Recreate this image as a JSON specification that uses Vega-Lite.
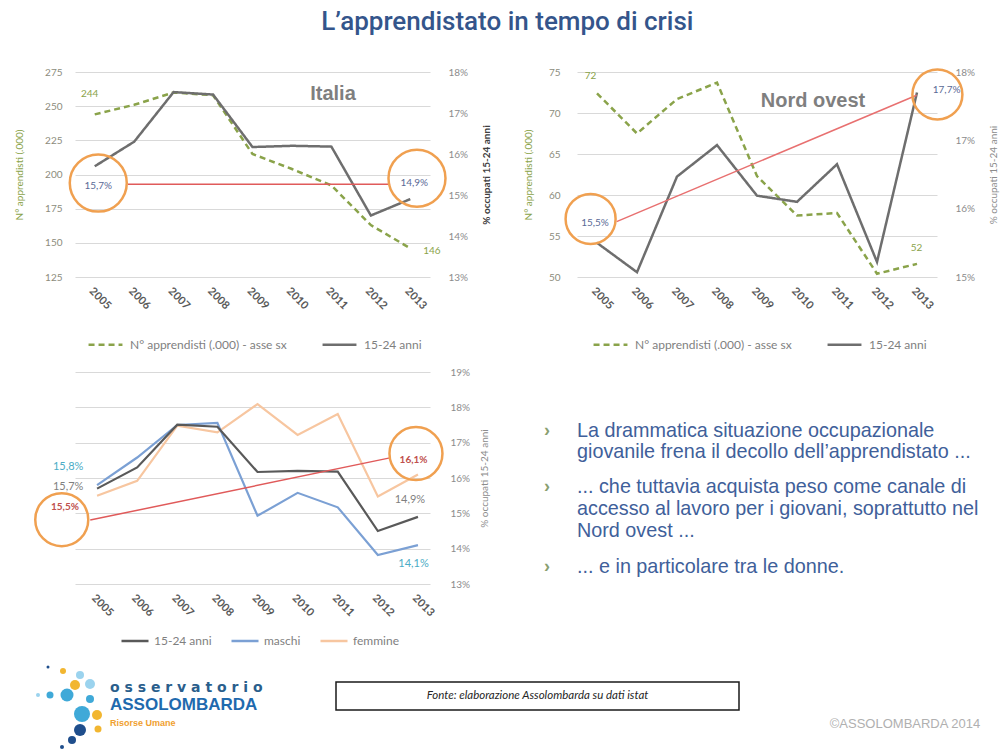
{
  "$schema": "https://vega.github.io/schema/vega-lite/v6.json",
  "background": "#ffffff",
  "padding": {"left": 14, "top": 8, "right": 0, "bottom": 0},
  "title": {
    "text": "L’apprendistato in tempo di crisi",
    "font": "Roboto", "fontSize": 26, "fontWeight": 500, "color": "#34558B",
    "anchor": "middle", "offset": 30
  },
  "config": {
    "view": {"stroke": null},
    "font": "Lato",
    "axis": {"labelFont": "Lato", "titleFont": "Lato", "labelFontSize": 10, "titleFontSize": 10, "labelColor": "#8C8C8C", "domain": false, "ticks": false, "grid": false, "gridColor": "#D9D9D9", "labelOverlap": false},
    "legend": {"labelFont": "Lato", "labelLimit": 400}
  },
  "datasets": {
    "apprendisti": [
      {"area": "Italia", "serie": "N° apprendisti (.000) - asse sx", "anno": 2005, "valore": 244},
      {"area": "Italia", "serie": "N° apprendisti (.000) - asse sx", "anno": 2006, "valore": 251},
      {"area": "Italia", "serie": "N° apprendisti (.000) - asse sx", "anno": 2007, "valore": 260},
      {"area": "Italia", "serie": "N° apprendisti (.000) - asse sx", "anno": 2008, "valore": 258},
      {"area": "Italia", "serie": "N° apprendisti (.000) - asse sx", "anno": 2009, "valore": 215},
      {"area": "Italia", "serie": "N° apprendisti (.000) - asse sx", "anno": 2010, "valore": 204},
      {"area": "Italia", "serie": "N° apprendisti (.000) - asse sx", "anno": 2011, "valore": 192},
      {"area": "Italia", "serie": "N° apprendisti (.000) - asse sx", "anno": 2012, "valore": 163},
      {"area": "Italia", "serie": "N° apprendisti (.000) - asse sx", "anno": 2013, "valore": 146},
      {"area": "Nord ovest", "serie": "N° apprendisti (.000) - asse sx", "anno": 2005, "valore": 72.4},
      {"area": "Nord ovest", "serie": "N° apprendisti (.000) - asse sx", "anno": 2006, "valore": 67.5},
      {"area": "Nord ovest", "serie": "N° apprendisti (.000) - asse sx", "anno": 2007, "valore": 71.7},
      {"area": "Nord ovest", "serie": "N° apprendisti (.000) - asse sx", "anno": 2008, "valore": 73.7},
      {"area": "Nord ovest", "serie": "N° apprendisti (.000) - asse sx", "anno": 2009, "valore": 62.3},
      {"area": "Nord ovest", "serie": "N° apprendisti (.000) - asse sx", "anno": 2010, "valore": 57.5},
      {"area": "Nord ovest", "serie": "N° apprendisti (.000) - asse sx", "anno": 2011, "valore": 57.8},
      {"area": "Nord ovest", "serie": "N° apprendisti (.000) - asse sx", "anno": 2012, "valore": 50.4},
      {"area": "Nord ovest", "serie": "N° apprendisti (.000) - asse sx", "anno": 2013, "valore": 51.6}
    ],
    "occupati": [
      {"area": "Italia", "serie": "femmine", "anno": 2005, "valore": 15.5},
      {"area": "Italia", "serie": "femmine", "anno": 2006, "valore": 15.92},
      {"area": "Italia", "serie": "femmine", "anno": 2007, "valore": 17.48},
      {"area": "Italia", "serie": "femmine", "anno": 2008, "valore": 17.29},
      {"area": "Italia", "serie": "femmine", "anno": 2009, "valore": 18.09},
      {"area": "Italia", "serie": "femmine", "anno": 2010, "valore": 17.22},
      {"area": "Italia", "serie": "femmine", "anno": 2011, "valore": 17.81},
      {"area": "Italia", "serie": "femmine", "anno": 2012, "valore": 15.48},
      {"area": "Italia", "serie": "femmine", "anno": 2013, "valore": 16.1},
      {"area": "Italia", "serie": "maschi", "anno": 2005, "valore": 15.8},
      {"area": "Italia", "serie": "maschi", "anno": 2006, "valore": 16.58},
      {"area": "Italia", "serie": "maschi", "anno": 2007, "valore": 17.5},
      {"area": "Italia", "serie": "maschi", "anno": 2008, "valore": 17.56},
      {"area": "Italia", "serie": "maschi", "anno": 2009, "valore": 14.93},
      {"area": "Italia", "serie": "maschi", "anno": 2010, "valore": 15.58},
      {"area": "Italia", "serie": "maschi", "anno": 2011, "valore": 15.17},
      {"area": "Italia", "serie": "maschi", "anno": 2012, "valore": 13.82},
      {"area": "Italia", "serie": "maschi", "anno": 2013, "valore": 14.1},
      {"area": "Italia", "serie": "15-24 anni", "anno": 2005, "valore": 15.7},
      {"area": "Italia", "serie": "15-24 anni", "anno": 2006, "valore": 16.3},
      {"area": "Italia", "serie": "15-24 anni", "anno": 2007, "valore": 17.51},
      {"area": "Italia", "serie": "15-24 anni", "anno": 2008, "valore": 17.45},
      {"area": "Italia", "serie": "15-24 anni", "anno": 2009, "valore": 16.17},
      {"area": "Italia", "serie": "15-24 anni", "anno": 2010, "valore": 16.2},
      {"area": "Italia", "serie": "15-24 anni", "anno": 2011, "valore": 16.18},
      {"area": "Italia", "serie": "15-24 anni", "anno": 2012, "valore": 14.5},
      {"area": "Italia", "serie": "15-24 anni", "anno": 2013, "valore": 14.9},
      {"area": "Nord ovest", "serie": "15-24 anni", "anno": 2005, "valore": 15.5},
      {"area": "Nord ovest", "serie": "15-24 anni", "anno": 2006, "valore": 15.07},
      {"area": "Nord ovest", "serie": "15-24 anni", "anno": 2007, "valore": 16.47},
      {"area": "Nord ovest", "serie": "15-24 anni", "anno": 2008, "valore": 16.93},
      {"area": "Nord ovest", "serie": "15-24 anni", "anno": 2009, "valore": 16.19},
      {"area": "Nord ovest", "serie": "15-24 anni", "anno": 2010, "valore": 16.1},
      {"area": "Nord ovest", "serie": "15-24 anni", "anno": 2011, "valore": 16.65},
      {"area": "Nord ovest", "serie": "15-24 anni", "anno": 2012, "valore": 15.22},
      {"area": "Nord ovest", "serie": "15-24 anni", "anno": 2013, "valore": 17.7}
    ],
    "tendenze": [
      {"pannello": "Italia", "anno": 2005.84, "valore": 15.26},
      {"pannello": "Italia", "anno": 2012.49, "valore": 15.26},
      {"pannello": "Nord ovest", "anno": 2005.49, "valore": 15.81},
      {"pannello": "Nord ovest", "anno": 2012.99, "valore": 17.66},
      {"pannello": "Genere", "anno": 2004.83, "valore": 14.81},
      {"pannello": "Genere", "anno": 2012.3, "valore": 16.57}
    ],
    "cerchi": [
      {"pannello": "Italia", "anno": 2005.09, "valore": 15.29},
      {"pannello": "Italia", "anno": 2013.17, "valore": 15.41},
      {"pannello": "Nord ovest", "anno": 2004.84, "valore": 15.85},
      {"pannello": "Nord ovest", "anno": 2013.51, "valore": 17.67},
      {"pannello": "Genere", "anno": 2004.12, "valore": 14.82},
      {"pannello": "Genere", "anno": 2012.95, "valore": 16.69}
    ],
    "etichette": [
      {"pannello": "Italia", "asse": "sx", "tipo": "apprendisti", "anno": 2004.87, "valore": 258.9, "testo": "244"},
      {"pannello": "Italia", "asse": "sx", "tipo": "apprendisti", "anno": 2013.55, "valore": 144, "testo": "146"},
      {"pannello": "Italia", "asse": "sx", "tipo": "titolo", "anno": 2011.04, "valore": 258.9, "testo": "Italia"},
      {"pannello": "Italia", "asse": "dx", "tipo": "quota", "anno": 2005.09, "valore": 15.23, "testo": "15,7%"},
      {"pannello": "Italia", "asse": "dx", "tipo": "quota", "anno": 2013.1, "valore": 15.29, "testo": "14,9%"},
      {"pannello": "Nord ovest", "asse": "sx", "tipo": "apprendisti", "anno": 2004.84, "valore": 74.55, "testo": "72"},
      {"pannello": "Nord ovest", "asse": "sx", "tipo": "apprendisti", "anno": 2012.99, "valore": 53.5, "testo": "52"},
      {"pannello": "Nord ovest", "asse": "sx", "tipo": "titolo", "anno": 2010.4, "valore": 71.45, "testo": "Nord ovest"},
      {"pannello": "Nord ovest", "asse": "dx", "tipo": "quota", "anno": 2004.95, "valore": 15.79, "testo": "15,5%"},
      {"pannello": "Nord ovest", "asse": "dx", "tipo": "quota", "anno": 2013.74, "valore": 17.73, "testo": "17,7%"},
      {"pannello": "Genere", "asse": "dx", "tipo": "femmine", "anno": 2004.2, "valore": 15.18, "testo": "15,5%"},
      {"pannello": "Genere", "asse": "dx", "tipo": "femmine", "anno": 2012.89, "valore": 16.5, "testo": "16,1%"},
      {"pannello": "Genere", "asse": "dx", "tipo": "maschi", "anno": 2004.28, "valore": 16.31, "testo": "15,8%"},
      {"pannello": "Genere", "asse": "dx", "tipo": "totale", "anno": 2004.28, "valore": 15.75, "testo": "15,7%"},
      {"pannello": "Genere", "asse": "dx", "tipo": "totale", "anno": 2012.8, "valore": 15.37, "testo": "14,9%"},
      {"pannello": "Genere", "asse": "dx", "tipo": "maschi", "anno": 2012.89, "valore": 13.58, "testo": "14,1%"}
    ],
    "punti": [
      {"riga": 1, "inizio": true, "testo": "La drammatica situazione occupazionale"},
      {"riga": 2, "inizio": false, "testo": "giovanile frena il decollo dell’apprendistato ..."},
      {"riga": 3, "inizio": true, "testo": "... che tuttavia acquista peso come canale di"},
      {"riga": 4, "inizio": false, "testo": "accesso al lavoro per i giovani, soprattutto nel"},
      {"riga": 5, "inizio": false, "testo": "Nord ovest ..."},
      {"riga": 6, "inizio": true, "testo": "... e in particolare tra le donne."}
    ],
    "logo_punti": [
      {"lx": -37, "ly": 13, "r": 2, "tinta": "celeste"},
      {"lx": -25, "ly": 13, "r": 3.5, "tinta": "azzurro"},
      {"lx": -8, "ly": 13, "r": 6.5, "tinta": "azzurro"},
      {"lx": -27, "ly": -15, "r": 1.5, "tinta": "blu"},
      {"lx": -12, "ly": -11, "r": 3, "tinta": "giallo"},
      {"lx": 5, "ly": -7, "r": 4, "tinta": "celeste"},
      {"lx": 0, "ly": 3, "r": 5, "tinta": "giallo"},
      {"lx": 15, "ly": 2, "r": 5, "tinta": "celeste"},
      {"lx": 15, "ly": 17, "r": 4, "tinta": "azzurro"},
      {"lx": 7, "ly": 32, "r": 8, "tinta": "azzurro"},
      {"lx": 22, "ly": 33, "r": 5, "tinta": "giallo"},
      {"lx": 23, "ly": 47, "r": 3.5, "tinta": "giallo"},
      {"lx": 5, "ly": 48, "r": 6, "tinta": "blu"},
      {"lx": -3, "ly": 58, "r": 4, "tinta": "blu"},
      {"lx": -13, "ly": 65, "r": 2, "tinta": "blu"}
    ],
    "logo_testi": [
      {"stile": "a", "lx": 35, "ly": 6, "testo": "o s s e r v a t o r i o"},
      {"stile": "b", "lx": 35, "ly": 23, "testo": "ASSOLOMBARDA"},
      {"stile": "c", "lx": 35, "ly": 41, "testo": "Risorse Umane"}
    ]
  },
  "vconcat": [
    {
      "concat": [
        {
          "width": 355, "height": 205,
          "layer": [
            {
              "layer": [
                {
                  "data": {"name": "apprendisti"},
                  "transform": [{"filter": "datum.area === 'Italia'"}],
                  "mark": {"type": "line", "strokeWidth": 2.5},
                  "encoding": {
                    "x": {"field": "anno", "type": "quantitative", "scale": {"domain": [2004.5, 2013.5], "nice": false, "zero": false}, "axis": {"values": [2005, 2006, 2007, 2008, 2009, 2010, 2011, 2012, 2013], "tickCount": 20, "format": "d", "labelAngle": 45, "title": null, "grid": false, "labelPadding": 8, "labelColor": "#595959", "labelFontWeight": "bold", "labelFontSize": 11}},
                    "y": {"field": "valore", "type": "quantitative", "scale": {"domain": [125, 275], "nice": false, "zero": false}, "axis": {"values": [125, 150, 175, 200, 225, 250, 275], "tickCount": 20, "grid": true, "title": "N° apprendisti (.000)", "titleColor": "#8AA34A", "titleFontWeight": "normal", "labelPadding": 13, "titlePadding": 20, "labelColor": "#8C8C7C"}},
                    "color": {"field": "serie", "type": "nominal", "scale": {"domain": ["N° apprendisti (.000) - asse sx", "15-24 anni"], "range": ["#8AA34A", "#6E6E6E"]}, "legend": {"orient": "none", "legendX": 12, "legendY": 254, "direction": "horizontal", "title": null, "symbolType": "stroke", "symbolSize": 1150, "symbolStrokeWidth": 2.5, "labelFontSize": 12, "labelColor": "#7F7F7F", "columnPadding": 30, "labelOffset": 6}},
                    "strokeDash": {"field": "serie", "type": "nominal", "scale": {"domain": ["N° apprendisti (.000) - asse sx", "15-24 anni"], "range": [[6, 4], [1, 0]]}, "legend": {"orient": "none", "legendX": 12, "legendY": 254, "direction": "horizontal", "title": null, "symbolType": "stroke", "symbolSize": 1150, "symbolStrokeWidth": 2.5, "labelFontSize": 12, "labelColor": "#7F7F7F", "columnPadding": 30, "labelOffset": 6}}
                  }
                },
                {
                  "data": {"name": "etichette"},
                  "transform": [{"filter": "datum.pannello === 'Italia' && datum.asse === 'sx' && datum.tipo !== 'titolo'"}],
                  "mark": {"type": "text", "fontSize": 10, "font": "Lato", "fill": "#8AA34A"},
                  "encoding": {
                    "x": {"field": "anno", "type": "quantitative"},
                    "y": {"field": "valore", "type": "quantitative"},
                    "text": {"field": "testo"}
                  }
                },
                {
                  "data": {"name": "etichette"},
                  "transform": [{"filter": "datum.pannello === 'Italia' && datum.tipo === 'titolo'"}],
                  "mark": {"type": "text", "fontSize": 20, "fontWeight": "bold", "font": "Liberation Sans", "fill": "#7F7F7F"},
                  "encoding": {
                    "x": {"field": "anno", "type": "quantitative"},
                    "y": {"field": "valore", "type": "quantitative"},
                    "text": {"field": "testo"}
                  }
                }
              ]
            },
            {
              "layer": [
                {
                  "data": {"name": "occupati"},
                  "transform": [{"filter": "datum.area === 'Italia' && datum.serie === '15-24 anni'"}],
                  "mark": {"type": "line", "strokeWidth": 2.5},
                  "encoding": {
                    "x": {"field": "anno", "type": "quantitative"},
                    "y": {"field": "valore", "type": "quantitative", "scale": {"domain": [13, 18], "nice": false, "zero": false}, "axis": {"orient": "right", "values": [13, 14, 15, 16, 17, 18], "tickCount": 20, "grid": false, "labelExpr": "datum.value + '%'", "title": "% occupati 15-24 anni", "titleAngle": 270, "titleFontWeight": "bold", "titleColor": "#404040", "labelPadding": 18, "titlePadding": 24}},
                    "color": {"field": "serie", "type": "nominal", "scale": {"domain": ["N° apprendisti (.000) - asse sx", "15-24 anni"], "range": ["#8AA34A", "#6E6E6E"]}, "legend": {"orient": "none", "legendX": 12, "legendY": 254, "direction": "horizontal", "title": null, "symbolType": "stroke", "symbolSize": 1150, "symbolStrokeWidth": 2.5, "labelFontSize": 12, "labelColor": "#7F7F7F", "columnPadding": 30, "labelOffset": 6}},
                    "strokeDash": {"field": "serie", "type": "nominal", "scale": {"domain": ["N° apprendisti (.000) - asse sx", "15-24 anni"], "range": [[6, 4], [1, 0]]}, "legend": {"orient": "none", "legendX": 12, "legendY": 254, "direction": "horizontal", "title": null, "symbolType": "stroke", "symbolSize": 1150, "symbolStrokeWidth": 2.5, "labelFontSize": 12, "labelColor": "#7F7F7F", "columnPadding": 30, "labelOffset": 6}}
                  }
                },
                {
                  "data": {"name": "tendenze"},
                  "transform": [{"filter": "datum.pannello === 'Italia'"}],
                  "mark": {"type": "line", "color": "#E05A5A", "strokeWidth": 1.5},
                  "encoding": {
                    "x": {"field": "anno", "type": "quantitative"},
                    "y": {"field": "valore", "type": "quantitative"}
                  }
                },
                {
                  "data": {"name": "cerchi"},
                  "transform": [{"filter": "datum.pannello === 'Italia'"}],
                  "mark": {"type": "point", "shape": "circle", "filled": false, "stroke": "#F0A050", "strokeWidth": 2.5, "size": 3249, "opacity": 1},
                  "encoding": {
                    "x": {"field": "anno", "type": "quantitative"},
                    "y": {"field": "valore", "type": "quantitative"}
                  }
                },
                {
                  "data": {"name": "etichette"},
                  "transform": [{"filter": "datum.pannello === 'Italia' && datum.asse === 'dx'"}],
                  "mark": {"type": "text", "fontSize": 10, "font": "Lato", "fill": "#5A6A96"},
                  "encoding": {
                    "x": {"field": "anno", "type": "quantitative"},
                    "y": {"field": "valore", "type": "quantitative"},
                    "text": {"field": "testo"}
                  }
                }
              ]
            }
          ],
          "resolve": {"scale": {"y": "independent"}}
        },
        {
          "width": 360, "height": 205,
          "layer": [
            {
              "layer": [
                {
                  "data": {"name": "apprendisti"},
                  "transform": [{"filter": "datum.area === 'Nord ovest'"}],
                  "mark": {"type": "line", "strokeWidth": 2.5},
                  "encoding": {
                    "x": {"field": "anno", "type": "quantitative", "scale": {"domain": [2004.5, 2013.5], "nice": false, "zero": false}, "axis": {"values": [2005, 2006, 2007, 2008, 2009, 2010, 2011, 2012, 2013], "tickCount": 20, "format": "d", "labelAngle": 45, "title": null, "grid": false, "labelPadding": 8, "labelColor": "#595959", "labelFontWeight": "bold", "labelFontSize": 11}},
                    "y": {"field": "valore", "type": "quantitative", "scale": {"domain": [50, 75], "nice": false, "zero": false}, "axis": {"values": [50, 55, 60, 65, 70, 75], "tickCount": 20, "grid": true, "title": "N° apprendisti (.000)", "titleColor": "#8AA34A", "titleFontWeight": "normal", "labelPadding": 17, "titlePadding": 15, "labelColor": "#8C8C7C"}},
                    "color": {"field": "serie", "type": "nominal", "scale": {"domain": ["N° apprendisti (.000) - asse sx", "15-24 anni"], "range": ["#8AA34A", "#6E6E6E"]}, "legend": {"orient": "none", "legendX": 15, "legendY": 254, "direction": "horizontal", "title": null, "symbolType": "stroke", "symbolSize": 1150, "symbolStrokeWidth": 2.5, "labelFontSize": 12, "labelColor": "#7F7F7F", "columnPadding": 30, "labelOffset": 6}},
                    "strokeDash": {"field": "serie", "type": "nominal", "scale": {"domain": ["N° apprendisti (.000) - asse sx", "15-24 anni"], "range": [[6, 4], [1, 0]]}, "legend": {"orient": "none", "legendX": 15, "legendY": 254, "direction": "horizontal", "title": null, "symbolType": "stroke", "symbolSize": 1150, "symbolStrokeWidth": 2.5, "labelFontSize": 12, "labelColor": "#7F7F7F", "columnPadding": 30, "labelOffset": 6}}
                  }
                },
                {
                  "data": {"name": "etichette"},
                  "transform": [{"filter": "datum.pannello === 'Nord ovest' && datum.asse === 'sx' && datum.tipo !== 'titolo'"}],
                  "mark": {"type": "text", "fontSize": 10, "font": "Lato", "fill": "#8AA34A"},
                  "encoding": {
                    "x": {"field": "anno", "type": "quantitative"},
                    "y": {"field": "valore", "type": "quantitative"},
                    "text": {"field": "testo"}
                  }
                },
                {
                  "data": {"name": "etichette"},
                  "transform": [{"filter": "datum.pannello === 'Nord ovest' && datum.tipo === 'titolo'"}],
                  "mark": {"type": "text", "fontSize": 20, "fontWeight": "bold", "font": "Liberation Sans", "fill": "#7F7F7F"},
                  "encoding": {
                    "x": {"field": "anno", "type": "quantitative"},
                    "y": {"field": "valore", "type": "quantitative"},
                    "text": {"field": "testo"}
                  }
                }
              ]
            },
            {
              "layer": [
                {
                  "data": {"name": "occupati"},
                  "transform": [{"filter": "datum.area === 'Nord ovest' && datum.serie === '15-24 anni'"}],
                  "mark": {"type": "line", "strokeWidth": 2.5},
                  "encoding": {
                    "x": {"field": "anno", "type": "quantitative"},
                    "y": {"field": "valore", "type": "quantitative", "scale": {"domain": [15, 18], "nice": false, "zero": false}, "axis": {"orient": "right", "values": [15, 16, 17, 18], "tickCount": 20, "grid": false, "labelExpr": "datum.value + '%'", "title": "% occupati 15-24 anni", "titleAngle": 270, "titleFontWeight": "normal", "titleColor": "#8C8C8C", "labelPadding": 18, "titlePadding": 24}},
                    "color": {"field": "serie", "type": "nominal", "scale": {"domain": ["N° apprendisti (.000) - asse sx", "15-24 anni"], "range": ["#8AA34A", "#6E6E6E"]}, "legend": {"orient": "none", "legendX": 15, "legendY": 254, "direction": "horizontal", "title": null, "symbolType": "stroke", "symbolSize": 1150, "symbolStrokeWidth": 2.5, "labelFontSize": 12, "labelColor": "#7F7F7F", "columnPadding": 30, "labelOffset": 6}},
                    "strokeDash": {"field": "serie", "type": "nominal", "scale": {"domain": ["N° apprendisti (.000) - asse sx", "15-24 anni"], "range": [[6, 4], [1, 0]]}, "legend": {"orient": "none", "legendX": 15, "legendY": 254, "direction": "horizontal", "title": null, "symbolType": "stroke", "symbolSize": 1150, "symbolStrokeWidth": 2.5, "labelFontSize": 12, "labelColor": "#7F7F7F", "columnPadding": 30, "labelOffset": 6}}
                  }
                },
                {
                  "data": {"name": "tendenze"},
                  "transform": [{"filter": "datum.pannello === 'Nord ovest'"}],
                  "mark": {"type": "line", "color": "#E87070", "strokeWidth": 1.5},
                  "encoding": {
                    "x": {"field": "anno", "type": "quantitative"},
                    "y": {"field": "valore", "type": "quantitative"}
                  }
                },
                {
                  "data": {"name": "cerchi"},
                  "transform": [{"filter": "datum.pannello === 'Nord ovest'"}],
                  "mark": {"type": "point", "shape": "circle", "filled": false, "stroke": "#F0A050", "strokeWidth": 2.5, "size": 2500, "opacity": 1},
                  "encoding": {
                    "x": {"field": "anno", "type": "quantitative"},
                    "y": {"field": "valore", "type": "quantitative"}
                  }
                },
                {
                  "data": {"name": "etichette"},
                  "transform": [{"filter": "datum.pannello === 'Nord ovest' && datum.asse === 'dx'"}],
                  "mark": {"type": "text", "fontSize": 10, "font": "Lato", "fill": "#5A6A96"},
                  "encoding": {
                    "x": {"field": "anno", "type": "quantitative"},
                    "y": {"field": "valore", "type": "quantitative"},
                    "text": {"field": "testo"}
                  }
                }
              ]
            }
          ],
          "resolve": {"scale": {"y": "independent"}}
        },
        {
          "width": 355, "height": 212,
          "layer": [
            {
              "data": {"name": "occupati"},
              "transform": [{"filter": "datum.area === 'Italia'"}],
              "mark": {"type": "line", "strokeWidth": 2.2},
              "encoding": {
                "x": {"field": "anno", "type": "quantitative", "scale": {"domain": [2004.45, 2013.3], "nice": false, "zero": false}, "axis": {"values": [2005, 2006, 2007, 2008, 2009, 2010, 2011, 2012, 2013], "tickCount": 20, "format": "d", "labelAngle": 45, "title": null, "grid": false, "labelPadding": 8, "labelColor": "#595959", "labelFontWeight": "bold", "labelFontSize": 11}},
                "y": {"field": "valore", "type": "quantitative", "scale": {"domain": [13, 19], "nice": false, "zero": false}, "axis": {"orient": "right", "values": [13, 14, 15, 16, 17, 18, 19], "tickCount": 20, "grid": true, "labelExpr": "datum.value + '%'", "title": "% occupati 15-24 anni", "titleAngle": 270, "titleFontWeight": "normal", "titleColor": "#8C8C8C", "labelPadding": 20, "titlePadding": 20}},
                "color": {"field": "serie", "type": "nominal", "scale": {"domain": ["15-24 anni", "maschi", "femmine"], "range": ["#595959", "#7BA0D4", "#F7C6A0"]}, "legend": {"orient": "none", "legendX": 45, "legendY": 254, "direction": "horizontal", "title": null, "symbolType": "stroke", "symbolSize": 730, "symbolStrokeWidth": 2.5, "labelFontSize": 12, "labelColor": "#7F7F7F", "columnPadding": 14, "labelOffset": 4}}
              }
            },
            {
              "data": {"name": "tendenze"},
              "transform": [{"filter": "datum.pannello === 'Genere'"}],
              "mark": {"type": "line", "color": "#E05A5A", "strokeWidth": 1.5},
              "encoding": {
                "x": {"field": "anno", "type": "quantitative"},
                "y": {"field": "valore", "type": "quantitative"}
              }
            },
            {
              "data": {"name": "cerchi"},
              "transform": [{"filter": "datum.pannello === 'Genere'"}],
              "mark": {"type": "point", "shape": "circle", "filled": false, "stroke": "#F0A050", "strokeWidth": 2.5, "size": 2809, "opacity": 1},
              "encoding": {
                "x": {"field": "anno", "type": "quantitative"},
                "y": {"field": "valore", "type": "quantitative"}
              }
            },
            {
              "data": {"name": "etichette"},
              "transform": [{"filter": "datum.pannello === 'Genere' && datum.tipo !== 'femmine'"}],
              "mark": {"type": "text", "fontSize": 11, "font": "Lato"},
              "encoding": {
                "x": {"field": "anno", "type": "quantitative"},
                "y": {"field": "valore", "type": "quantitative"},
                "text": {"field": "testo"},
                "fill": {"field": "tipo", "type": "nominal", "scale": {"domain": ["totale", "maschi", "femmine"], "range": ["#7F7F7F", "#4BACC6", "#C0504D"]}, "legend": null}
              }
            },
            {
              "data": {"name": "etichette"},
              "transform": [{"filter": "datum.pannello === 'Genere' && datum.tipo === 'femmine'"}],
              "mark": {"type": "text", "fontSize": 10, "fontWeight": "bold", "font": "Lato", "fill": "#C0504D"},
              "encoding": {
                "x": {"field": "anno", "type": "quantitative"},
                "y": {"field": "valore", "type": "quantitative"},
                "text": {"field": "testo"}
              }
            }
          ]
        },
        {
          "width": 410, "height": 212,
          "data": {"name": "punti"},
          "layer": [
            {
              "mark": {"type": "text", "align": "left", "baseline": "middle", "fontSize": 19.8, "font": "Liberation Sans", "color": "#40609A"},
              "encoding": {
                "x": {"value": 0},
                "y": {"field": "riga", "type": "quantitative", "scale": {"domain": [1, 2, 3, 4, 5, 6], "range": [59, 80, 115, 137, 159, 195], "nice": false, "zero": false}, "axis": null},
                "text": {"field": "testo"}
              }
            },
            {
              "transform": [{"filter": "datum.inizio"}],
              "mark": {"type": "text", "align": "center", "baseline": "middle", "fontSize": 18, "fontWeight": "bold", "font": "Liberation Sans", "color": "#8AA070", "dx": -30},
              "encoding": {
                "x": {"value": 0},
                "y": {"field": "riga", "type": "quantitative", "axis": null},
                "text": {"value": "›"}
              }
            }
          ]
        }
      ],
      "columns": 2,
      "bounds": "flush",
      "spacing": {"row": 95, "column": 147},
      "resolve": {"scale": {"color": "independent", "strokeDash": "independent", "fill": "independent"}}
    },
    {
      "hconcat": [
        {
          "width": 190, "height": 28,
          "layer": [
            {
              "data": {"name": "logo_punti"},
              "mark": {"type": "point", "shape": "circle", "filled": true, "opacity": 1},
              "encoding": {
                "x": {"field": "lx", "type": "quantitative", "scale": {"domain": [0, 190], "nice": false, "zero": false}, "axis": null},
                "y": {"field": "ly", "type": "quantitative", "scale": {"domain": [0, 28], "nice": false, "zero": false, "reverse": true}, "axis": null},
                "size": {"field": "r", "type": "quantitative", "scale": {"type": "pow", "exponent": 2, "domain": [0, 10], "range": [0, 400]}, "legend": null},
                "color": {"field": "tinta", "type": "nominal", "scale": {"domain": ["celeste", "azzurro", "blu", "giallo"], "range": ["#9BD3EE", "#3FA9D8", "#1F4E8C", "#F2B630"]}, "legend": null}
              }
            },
            {
              "data": {"name": "logo_testi"},
              "transform": [{"filter": "datum.stile === 'a'"}],
              "mark": {"type": "text", "align": "left", "baseline": "middle", "font": "DejaVu Sans", "fontSize": 14, "fontWeight": "bold", "color": "#2A5E8C"},
              "encoding": {
                "x": {"field": "lx", "type": "quantitative", "axis": null},
                "y": {"field": "ly", "type": "quantitative", "axis": null},
                "text": {"field": "testo"}
              }
            },
            {
              "data": {"name": "logo_testi"},
              "transform": [{"filter": "datum.stile === 'b'"}],
              "mark": {"type": "text", "align": "left", "baseline": "middle", "font": "Liberation Sans", "fontSize": 17, "fontWeight": "bold", "color": "#1F6AAE"},
              "encoding": {
                "x": {"field": "lx", "type": "quantitative", "axis": null},
                "y": {"field": "ly", "type": "quantitative", "axis": null},
                "text": {"field": "testo"}
              }
            },
            {
              "data": {"name": "logo_testi"},
              "transform": [{"filter": "datum.stile === 'c'"}],
              "mark": {"type": "text", "align": "left", "baseline": "middle", "font": "Liberation Sans", "fontSize": 9, "fontWeight": "bold", "color": "#F0A030"},
              "encoding": {
                "x": {"field": "lx", "type": "quantitative", "axis": null},
                "y": {"field": "ly", "type": "quantitative", "axis": null},
                "text": {"field": "testo"}
              }
            }
          ]
        },
        {
          "width": 403, "height": 28,
          "view": {"stroke": "#1A1A1A", "strokeWidth": 1.5},
          "data": {"values": [{"testo": "Fonte: elaborazione Assolombarda su dati istat"}]},
          "mark": {"type": "text", "font": "Lato", "fontStyle": "italic", "fontSize": 11.5, "color": "#262626"},
          "encoding": {"text": {"field": "testo"}}
        },
        {
          "width": 190, "height": 28,
          "data": {"values": [{"testo": "©ASSOLOMBARDA 2014"}]},
          "mark": {"type": "text", "font": "Liberation Sans", "fontSize": 13, "color": "#B0B0B0", "dy": 28},
          "encoding": {"text": {"field": "testo"}}
        }
      ],
      "bounds": "flush",
      "spacing": 71,
      "resolve": {"scale": {"color": "independent", "size": "independent"}}
    }
  ],
  "spacing": 18,
  "resolve": {"scale": {"color": "independent", "strokeDash": "independent", "fill": "independent", "size": "independent"}}
}
